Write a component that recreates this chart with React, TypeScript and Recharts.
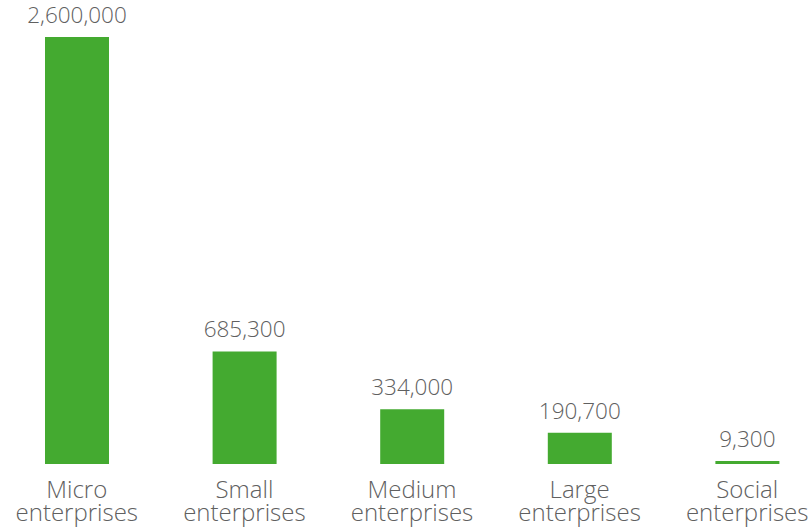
import React from 'react';
import { BarChart, Bar, XAxis, YAxis, LabelList } from 'recharts';

// enterprise counts by size
const categories = ['Micro enterprises', 'Small enterprises', 'Medium enterprises', 'Large enterprises', 'Social enterprises'];
const counts = [2600000, 685300, 334000, 190700, 9300];

const data = categories.map((name, i) => ({ name, count: counts[i] }));

const GREEN = '#44aa30';
const TEXT = '#606060';
const FONT = '"Open Sans", sans-serif';

function CategoryTick(props: any) {
  const { x, y, payload } = props;
  const [first, ...rest] = String(payload.value).split(' ');
  return (
    <g>
      <text x={x} y={y + 34} textAnchor="middle" fill={TEXT} fontSize={24} fontWeight={300} fontFamily={FONT}>
        {first}
      </text>
      <text x={x} y={y + 57} textAnchor="middle" fill={TEXT} fontSize={24} fontWeight={300} fontFamily={FONT}>
        {rest.join(' ')}
      </text>
    </g>
  );
}

export default function App() {
  return (
    <div style={{ position: 'absolute', left: 0, top: 0, width: 811, height: 530, overflow: 'hidden', background: '#fff' }}>
      <div style={{ marginLeft: -7 }}>
        <BarChart width={838} height={530} data={data} margin={{ top: 37, right: 0, bottom: 0, left: 0 }} barCategoryGap={0}>
          <XAxis
            dataKey="name"
            axisLine={false}
            tickLine={false}
            tickSize={0}
            tickMargin={0}
            height={66}
            interval={0}
            tick={<CategoryTick />}
          />
          <YAxis hide domain={[0, 2600000]} />
          <Bar dataKey="count" fill={GREEN} barSize={64} minPointSize={3} isAnimationActive={false}>
            <LabelList
              dataKey="count"
              position="top"
              offset={14}
              fill={TEXT}
              fontSize={22.5}
              fontWeight={300}
              fontFamily={FONT}
              formatter={(v: any) => Number(v).toLocaleString('en-US')}
            />
          </Bar>
        </BarChart>
      </div>
    </div>
  );
}
